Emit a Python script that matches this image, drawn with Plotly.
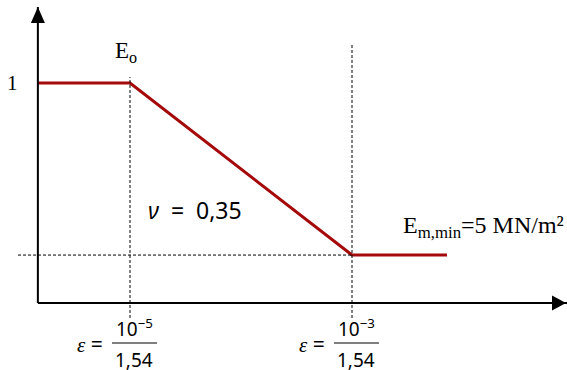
import plotly.graph_objects as go

# ---- data (log10 of strain-like position, normalized modulus) ----
strain_log = [-5.83, -5.0, -3.0, -2.144]
E_ratio = [1.0, 1.0, 0.218, 0.218]
tick_pos = [-5.0, -3.0]
tick_num = ["10<sup>\u22125</sup>", "10<sup>\u22123</sup>"]
tick_den = ["1,54", "1,54"]
E0_label = "E<sub>o</sub>"
Emin_label = "E<sub>m,min</sub>=5 MN/m\u00b2"
nu_label = "<i>\u03bd</i>  =  0,35"
one_label = "1"

x_origin = strain_log[0]
x_range = [-6.1712, -1.0631]
y_range = [-0.3045, 1.3773]
x_axis_end = x_range[1]
y_axis_end = 1.3455
dotted_top = [1.027, 1.177]
dotted_bottom = -0.068
hline_left = -6.009

RED = "#A50A0A"
SERIF = "Liberation Serif, Times New Roman, serif"
SANS = "Noto Sans, Open Sans, sans-serif"

fig = go.Figure()
fig.add_trace(go.Scatter(x=strain_log, y=E_ratio, mode="lines",
                         line=dict(color=RED, width=3), hoverinfo="skip",
                         showlegend=False))

shapes = []
# dotted guide lines
for xp, top in zip(tick_pos, dotted_top):
    shapes.append(dict(type="line", xref="x", yref="y", x0=xp, x1=xp,
                       y0=dotted_bottom, y1=top,
                       line=dict(color="black", width=1, dash="3px,2px")))
shapes.append(dict(type="line", xref="x", yref="y", x0=hline_left, x1=tick_pos[1],
                   y0=E_ratio[-1], y1=E_ratio[-1],
                   line=dict(color="black", width=1, dash="3px,2px")))
# axes
shapes.append(dict(type="line", xref="x", yref="y", x0=x_origin, x1=x_axis_end,
                   y0=0, y1=0, line=dict(color="black", width=2)))
shapes.append(dict(type="line", xref="x", yref="y", x0=x_origin, x1=x_origin,
                   y0=0, y1=y_axis_end, line=dict(color="black", width=2)))
# arrowheads (pixel-sized, anchored at axis ends)
shapes.append(dict(type="path", xref="x", yref="y", xsizemode="pixel", ysizemode="pixel",
                   xanchor=x_axis_end, yanchor=0,
                   path="M -1 0 L -15 7.5 L -15 -7.5 Z",
                   fillcolor="black", line=dict(width=0)))
shapes.append(dict(type="path", xref="x", yref="y", xsizemode="pixel", ysizemode="pixel",
                   xanchor=x_origin, yanchor=y_axis_end,
                   path="M 0 0 L -7 -16 L 7 -16 Z",
                   fillcolor="black", line=dict(width=0)))
# fraction bars
for xp in tick_pos:
    shapes.append(dict(type="line", xref="x", yref="y", xsizemode="pixel", ysizemode="pixel",
                       xanchor=xp, yanchor=0, x0=-18, x1=27, y0=-40, y1=-40,
                       line=dict(color="#555555", width=1.5)))

ann = []
for xp, num, den in zip(tick_pos, tick_num, tick_den):
    ann.append(dict(x=xp, y=0, xref="x", yref="y", text=num, showarrow=False,
                    xshift=4, yshift=-25, font=dict(family=SANS, size=19, color="black")))
    ann.append(dict(x=xp, y=0, xref="x", yref="y", text=den, showarrow=False,
                    xshift=4, yshift=-57, font=dict(family=SANS, size=19, color="black")))
    ann.append(dict(x=xp, y=0, xref="x", yref="y",
                    text="<i><span style='font-family:Liberation Serif'>\u03b5</span></i> =",
                    showarrow=False, xshift=-40, yshift=-41,
                    font=dict(family=SANS, size=21, color="black")))
ann.append(dict(x=x_origin, y=1, xref="x", yref="y", text=one_label, showarrow=False,
                xshift=-25, yshift=0, font=dict(family=SERIF, size=21, color="black")))
ann.append(dict(x=tick_pos[0], y=1, xref="x", yref="y", text=E0_label, showarrow=False,
                xshift=-4, yshift=31, font=dict(family=SERIF, size=23, color="black")))
ann.append(dict(x=tick_pos[1], y=E_ratio[-1], xref="x", yref="y", text=Emin_label,
                showarrow=False, xanchor="left", xshift=49, yshift=28,
                font=dict(family=SERIF, size=24, color="black")))
ann.append(dict(x=(tick_pos[0] + tick_pos[1]) / 2, y=(E_ratio[1] + E_ratio[2]) / 2,
                xref="x", yref="y", text=nu_label, showarrow=False,
                xshift=-46, yshift=-41, font=dict(family=SANS, size=23, color="black")))

fig.update_layout(
    width=567, height=370, margin=dict(l=0, r=0, t=0, b=0),
    paper_bgcolor="white", plot_bgcolor="white",
    xaxis=dict(range=x_range, visible=False, fixedrange=True),
    yaxis=dict(range=y_range, visible=False, fixedrange=True),
    shapes=shapes, annotations=ann, showlegend=False,
)
fig.write_html("out.html", config={"displayModeBar": False},
               post_script="document.body.style.margin='0';document.body.style.overflow='hidden';")
